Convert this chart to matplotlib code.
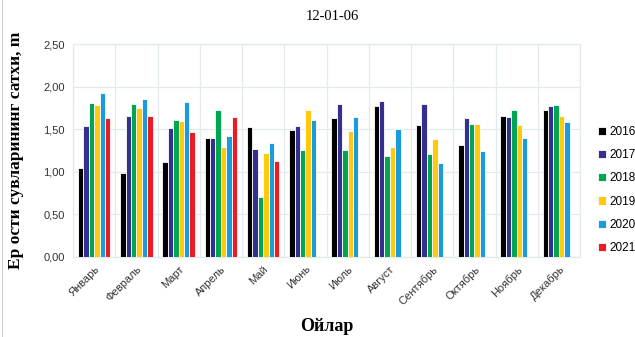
import matplotlib
matplotlib.use("Agg")
import matplotlib.pyplot as plt
import numpy as np

months = ["Январь", "Февраль", "Март", "Апрель", "Май", "Июнь",
          "Июль", "Август", "Сентябрь", "Октябрь", "Ноябрь", "Декабрь"]
years = ["2016", "2017", "2018", "2019", "2020", "2021"]

v2016 = [1.05, 0.99, 1.12, 1.40, 1.52, 1.49, 1.63, 1.77, 1.55, 1.32, 1.65, 1.72]
v2017 = [1.54, 1.65, 1.51, 1.40, 1.27, 1.54, 1.79, 1.83, 1.79, 1.63, 1.64, 1.77]
v2018 = [1.81, 1.79, 1.61, 1.72, 0.71, 1.26, 1.26, 1.18, 1.21, 1.56, 1.72, 1.78]
v2019 = [1.78, 1.75, 1.60, 1.29, 1.22, 1.72, 1.48, 1.29, 1.39, 1.56, 1.55, 1.66]
v2020 = [1.93, 1.85, 1.82, 1.42, 1.34, 1.61, 1.64, 1.50, 1.10, 1.24, 1.40, 1.58]
v2021 = [1.63, 1.65, 1.47, 1.64, 1.13]

series = [v2016, v2017, v2018, v2019, v2020, v2021]
colors = ["#000000", "#33308F", "#00A651", "#FFC90E", "#1A9BDB", "#ED1C24"]

fig = plt.figure(figsize=(6.35, 3.37), dpi=100)
ax = fig.add_axes([73 / 635, 1 - 257 / 337, 507 / 635, 213 / 337])

x = np.arange(len(months))
group = 0.77
width = group / len(series)
for i, (vals, c) in enumerate(zip(series, colors)):
    offset = (i - (len(series) - 1) / 2) * width
    ax.bar(x[:len(vals)] + offset, vals, width, color=c, label=years[i],
           edgecolor="white", linewidth=0.6, zorder=3)

ax.set_xlim(-0.5, len(months) - 0.5)
ax.set_ylim(0, 2.5)
ax.set_yticks(np.arange(0, 2.51, 0.5))
ax.set_yticklabels([f"{t:.2f}".replace(".", ",") for t in np.arange(0, 2.51, 0.5)],
                   fontsize=8, family="Liberation Sans", color="#333333")
ax.set_xticks(x)
ax.set_xticklabels(months, rotation=45, ha="right", rotation_mode="anchor",
                   fontsize=8, family="Liberation Sans", color="#333333")
ax.tick_params(length=0, pad=6)
ax.tick_params(axis="x", pad=5)

# grid lines on category boundaries and value ticks
ax.set_xticks(np.arange(-0.5, len(months)), minor=True)
ax.grid(True, which="minor", axis="x", color="#E3EAEE", linewidth=0.9, zorder=0)
ax.grid(True, which="major", axis="y", color="#E3EAEE", linewidth=0.9, zorder=0)
ax.tick_params(which="minor", length=0)
for s in ax.spines.values():
    s.set_color("#E3EAEE")
    s.set_linewidth(0.9)

ax.set_ylabel("Ер ости сувларининг сатхи, m", family="Liberation Serif",
              fontweight="bold", fontsize=12.5, labelpad=14)
ax.set_xlabel("Ойлар", family="Liberation Serif", fontweight="bold", fontsize=13,
              labelpad=8)
fig.text(0.524, 0.95, "12-01-06", ha="center", va="center",
         family="Liberation Serif", fontsize=10.5)

ax.legend(loc="upper left", bbox_to_anchor=(598 / 635, 1 - 126 / 337),
          bbox_transform=fig.transFigure, frameon=False,
          prop={"family": "Liberation Sans", "size": 8.5},
          handlelength=0.7, handleheight=0.7, handletextpad=0.3,
          labelspacing=0.95, borderaxespad=0, borderpad=0)

fig.add_artist(plt.Line2D([2 / 635, 2 / 635], [0, 1], color="#CCCCCC",
                          linewidth=0.8, transform=fig.transFigure))

fig.savefig("out.png", dpi=100)
